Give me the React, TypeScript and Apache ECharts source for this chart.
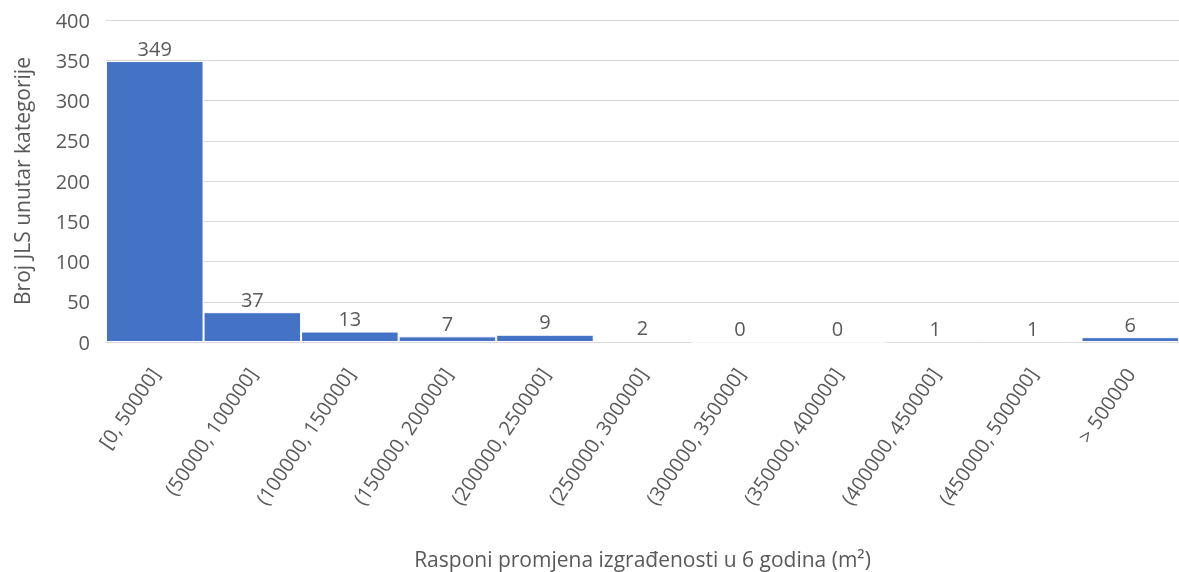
import React, { useEffect, useRef } from "react";
import * as echarts from "echarts";

const categories = [
  "[0, 50000]",
  "(50000, 100000]",
  "(100000, 150000]",
  "(150000, 200000]",
  "(200000, 250000]",
  "(250000, 300000]",
  "(300000, 350000]",
  "(350000, 400000]",
  "(400000, 450000]",
  "(450000, 500000]",
  "> 500000",
];
const counts = [349, 37, 13, 7, 9, 2, 0, 0, 1, 1, 6];
const yTicks = { min: 0, max: 400, interval: 50 };

const FONT = "'Open Sans', 'Liberation Sans', sans-serif";
const GRAY = "#595959";

export default function App() {
  const ref = useRef<HTMLDivElement>(null);
  useEffect(() => {
    const chart = echarts.init(ref.current!, null, { renderer: "svg" });
    chart.setOption({
      animation: false,
      grid: {
        left: 106,
        right: 0,
        top: 20,
        bottom: 230,
        containLabel: false,
        outerBoundsMode: "none",
      },
      xAxis: {
        type: "category",
        data: categories,
        axisTick: { show: false },
        axisLine: { lineStyle: { color: "#d9d9d9" } },
        axisLabel: {
          interval: 0,
          rotate: 56,
          color: GRAY,
          fontFamily: FONT,
          fontSize: 20,
          margin: 28,
        },
        name: "Rasponi promjena izgrađenosti u 6 godina (m²)",
        nameLocation: "middle",
        nameGap: 206,
        nameTextStyle: { color: GRAY, fontFamily: FONT, fontSize: 21 },
      },
      yAxis: {
        type: "value",
        min: yTicks.min,
        max: yTicks.max,
        interval: yTicks.interval,
        axisLine: { show: false },
        axisTick: { show: false },
        splitLine: { lineStyle: { color: "#d9d9d9" } },
        axisLabel: { color: GRAY, fontFamily: FONT, fontSize: 20, margin: 16 },
        name: "Broj JLS unutar kategorije",
        nameLocation: "middle",
        nameRotate: 90,
        nameGap: 74,
        nameTextStyle: { color: GRAY, fontFamily: FONT, fontSize: 21 },
      },
      series: [
        {
          type: "bar",
          data: counts,
          barCategoryGap: "0%",
          itemStyle: { color: "#4472c4", borderColor: "#ffffff", borderWidth: 1 },
          label: {
            show: true,
            position: "top",
            color: GRAY,
            fontFamily: FONT,
            fontSize: 20,
            distance: 3,
          },
        },
      ],
    });
    return () => chart.dispose();
  }, []);
  return (
    <div
      ref={ref}
      style={{ position: "fixed", left: 0, top: 0, width: 1179, height: 572 }}
    />
  );
}
